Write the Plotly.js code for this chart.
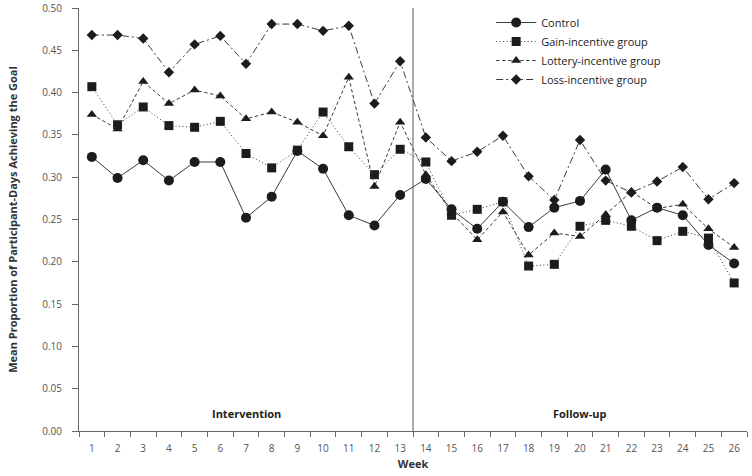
<!DOCTYPE html>
<html>
<head>
<meta charset="utf-8">
<script src="https://cdn.plot.ly/plotly-3.0.1.min.js"></script>
<style>html,body{margin:0;padding:0;background:#fff;}#chart{width:752px;height:476px;}</style>
</head>
<body>
<div id="chart"></div>
<script>
const weeks = ["1","2","3","4","5","6","7","8","9","10","11","12","13","14","15","16","17","18","19","20","21","22","23","24","25","26"];
const control = [0.324,0.299,0.320,0.296,0.318,0.318,0.252,0.277,0.331,0.310,0.255,0.243,0.279,0.298,0.262,0.239,0.271,0.241,0.264,0.272,0.309,0.249,0.264,0.255,0.220,0.198];
const gain    = [0.407,0.362,0.383,0.361,0.359,0.366,0.328,0.311,0.332,0.377,0.336,0.303,0.333,0.318,0.255,0.262,0.271,0.195,0.197,0.242,0.249,0.242,0.225,0.236,0.228,0.175];
const lottery = [0.374,0.357,0.413,0.387,0.403,0.396,0.369,0.377,0.365,0.349,0.418,0.289,0.365,0.303,0.258,0.226,0.259,0.208,0.234,0.230,0.256,0.283,0.263,0.268,0.239,0.217];
const loss    = [0.468,0.468,0.464,0.424,0.457,0.467,0.434,0.481,0.481,0.473,0.479,0.387,0.437,0.347,0.319,0.330,0.349,0.301,0.273,0.344,0.296,0.282,0.295,0.312,0.274,0.293];
const seriesNames = ["Control","Gain-incentive group","Lottery-incentive group","Loss-incentive group"];
const phaseLabels = ["Intervention","Follow-up"];

const lineCol = '#3a3a3a';
const markCol = '#1c1c1c';
function tr(y, name, dash, symbol, size){
  return {x: weeks, y: y, name: name, type:'scatter', mode:'lines+markers',
    line:{color:lineCol, width:1, dash:dash},
    marker:{symbol:symbol, size:size, color:markCol}};
}
const data = [
  tr(control, seriesNames[0], 'solid', 'circle', 10),
  tr(gain, seriesNames[1], '1px,2.5px', 'square', 9),
  tr(lottery, seriesNames[2], '3.5px,2.5px', 'triangle-up', 9),
  tr(loss, seriesNames[3], '7px,3px,2px,3px', 'diamond', 8)
];
const font = "'Open Sans', 'DejaVu Sans', sans-serif";
const layout = {
  width:752, height:476,
  margin:{l:79, r:5, t:8, b:45},
  paper_bgcolor:'#fff', plot_bgcolor:'#fff',
  font:{family:font, size:10, color:'#444'},
  showlegend:true,
  legend:{x:0.617, y:1.0, xanchor:'left', yanchor:'top', bgcolor:'rgba(0,0,0,0)',
    font:{family:font, size:11, color:'#222'}, tracegroupgap:0, itemwidth:40},
  xaxis:{type:'category', range:[-0.5,25.5], tickson:'boundaries', ticks:'outside', ticklen:5,
    tickcolor:'#666', showline:true, linecolor:'#666', linewidth:1, showgrid:false, zeroline:false,
    tickfont:{size:10, color:'#555'}, ticklabelstandoff:8,
    title:{text:'<b>Week</b>', font:{size:11, color:'#333'}, standoff:6}},
  yaxis:{range:[0,0.5], dtick:0.05, tickformat:'.2f', ticks:'outside', ticklen:6, tickcolor:'#666',
    showline:true, linecolor:'#666', linewidth:1, showgrid:false, zeroline:false,
    tickfont:{size:10, color:'#555'}, ticklabelstandoff:8,
    title:{text:'<b>Mean Proportion of Participant-Days Achieving the Goal</b>', font:{size:11, color:'#333'}, standoff:22}},
  shapes:[{type:'line', xref:'x', yref:'y', x0:12.5, x1:12.5, y0:0, y1:0.5, line:{color:'#555', width:1}}],
  annotations:[
    {x:6, y:0.021, xref:'x', yref:'y', text:'<b>'+phaseLabels[0]+'</b>', showarrow:false, font:{size:11, color:'#222'}},
    {x:19, y:0.021, xref:'x', yref:'y', text:'<b>'+phaseLabels[1]+'</b>', showarrow:false, font:{size:11, color:'#222'}}
  ]
};
Plotly.newPlot('chart', data, layout, {displayModeBar:false, staticPlot:true});
</script>
</body>
</html>
